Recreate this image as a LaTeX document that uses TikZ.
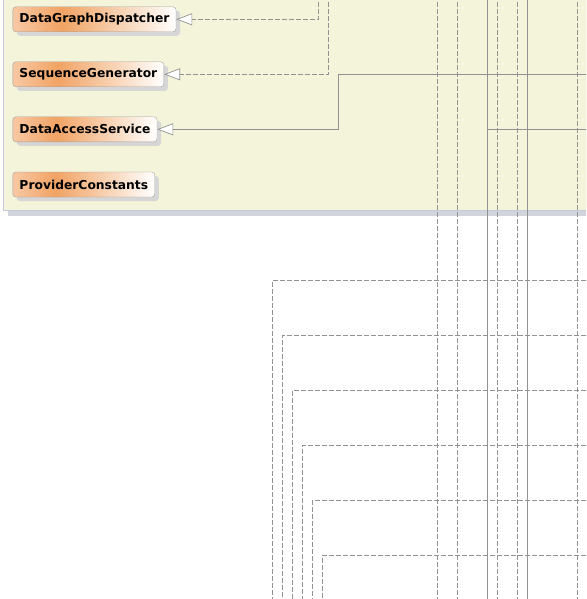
\documentclass[tikz,border=0pt]{standalone}
\usepackage{fontspec}
\usepackage{tikz}
\usetikzlibrary{arrows.meta,shadows}
\newfontfamily\umlfont{DejaVu Sans}
\definecolor{panelfill}{RGB}{244,244,218}
\definecolor{paneledge}{RGB}{197,201,220}
\definecolor{panelshadow}{RGB}{211,211,219}
\definecolor{linkgray}{RGB}{146,146,146}
\definecolor{peachL}{RGB}{248,200,164}
\definecolor{peachM}{RGB}{241,163,100}
\pgfdeclarehorizontalshading{classfill}{100bp}{color(0bp)=(peachL); color(25bp)=(peachL); color(40bp)=(peachM); color(75bp)=(white); color(100bp)=(white)}

\begin{document}
\begin{tikzpicture}[x=1pt,y=-1pt]
	\tikzset{classbox/.style={rounded corners=3pt,draw=gray!75,shading=classfill,anchor=west,minimum height=25pt,inner xsep=6.6pt,inner ysep=0pt,font=\umlfont\fontsize{12.3}{14}\selectfont\bfseries,drop shadow={shadow xshift=4pt,shadow yshift=-4pt,fill=black!16,opacity=1}}}
	\tikzset{gen/.style={draw=linkgray,line width=0.9pt,-{Triangle[length=16pt,width=12pt,fill=white,line width=0.7pt]}}}
	\tikzset{real/.style={gen,dash pattern=on 5pt off 2pt}}
	\tikzset{wire/.style={draw=linkgray,line width=0.9pt}}
	\clip (0,0) rectangle (586,599);
	% package panel
	\fill[panelshadow] (8,-10) rectangle (600,216);
	\filldraw[fill=panelfill,draw=paneledge,line width=0.9pt] (3,-20) rectangle (600,210);
	\node[classbox] (dispatcher) at (12.7,19.3) {DataGraphDispatcher};
	\node[classbox] (seqgen) at (12.7,74.3) {SequenceGenerator};
	\node[classbox] (dataaccess) at (12.7,129.3) {DataAccessService};
	\node[classbox] (constants) at (12.7,184.5) {ProviderConstants};
	% free ends
	\coordinate (dispatcher-src) at (318.3,-5);
	\coordinate (seqgen-src) at (328.7,-5);
	\coordinate (dataaccess-src) at (600,74.3);
	\coordinate (dataaccess-bend) at (338.3,74.3);
	\coordinate (branch-src) at (487.3,610);
	\coordinate (branch-dst) at (600,129.3);
	\draw[real] (dispatcher-src) |- (dispatcher);
	\draw[real] (seqgen-src) |- (seqgen);
	\draw[gen] (dataaccess-src) -- (dataaccess-bend) |- (dataaccess);
	\draw[wire] (branch-src) |- (branch-dst);
	% lines passing through
	\foreach \x in {437.3,457.3,497.3,517.3,577.3}
		\draw[wire,dash pattern=on 5pt off 2pt] (\x,-5) coordinate (top\x) -- (\x,610) coordinate (bot\x);
	\foreach \x in {487.3,527.3}
		\draw[wire] (\x,-5) coordinate (top\x) -- (\x,610) coordinate (bot\x);
	\foreach \i in {0,...,5}
		\draw[wire,dash pattern=on 5pt off 2pt] (600,280.3+55*\i) coordinate (in\i) -| (272.3+10*\i,610) coordinate (out\i);
\end{tikzpicture}
\end{document}
